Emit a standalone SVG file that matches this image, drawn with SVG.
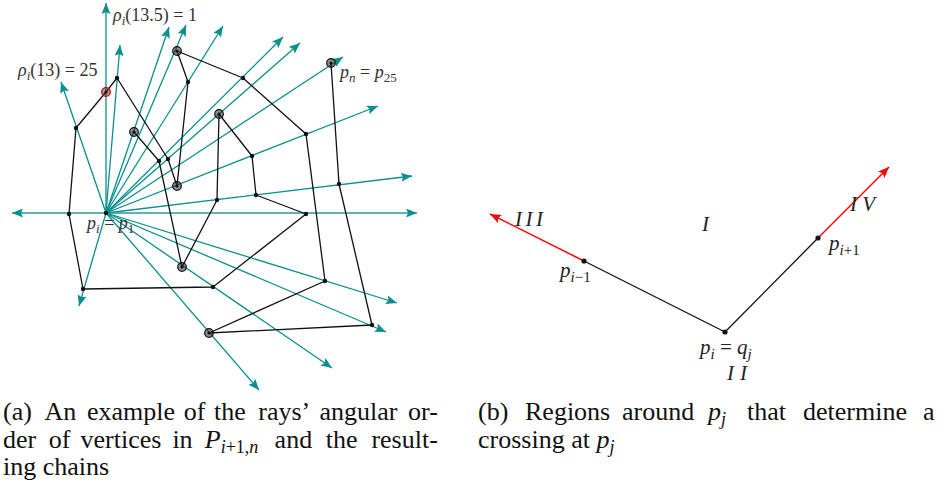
<svg xmlns="http://www.w3.org/2000/svg" width="940" height="486" viewBox="0 0 940 486">
<defs>
<style>
.ray{stroke:#0a8f8f;stroke-width:1.3;fill:none;marker-end:url(#ta)}
.axis{stroke:#5fb3b3;stroke-width:2.2;fill:none;marker-end:url(#ta)}
.edge{stroke:#111;stroke-width:1.3;fill:none;stroke-linejoin:round}
.dot{fill:#111}
.ring{fill:rgba(50,50,50,0.55);stroke:#111;stroke-width:1.2}
.redring{fill:rgba(60,60,60,0.5);stroke:#e00;stroke-width:1.3}
.red{stroke:#f00;stroke-width:1.5;fill:none;marker-end:url(#ra)}
.lbl{font-family:"Liberation Serif",serif;font-size:18px;fill:#333}
.rl{font-family:"Liberation Serif",serif;font-size:21px;fill:#222}
.cap{font-family:"Liberation Serif",serif;font-size:26px;fill:#111}
.it{font-style:italic}
</style>
<marker id="ta" viewBox="0 0 11 9" refX="11" refY="4.5" markerWidth="11" markerHeight="9" orient="auto" markerUnits="userSpaceOnUse"><path d="M0,0 L11,4.5 L0,9 L2,4.5 z" fill="#0a8f8f"/></marker>
<marker id="ra" viewBox="0 0 11 9" refX="11" refY="4.5" markerWidth="11" markerHeight="9" orient="auto" markerUnits="userSpaceOnUse"><path d="M0,0 L11,4.5 L0,9 L2,4.5 z" fill="#f00"/></marker>
</defs>
<rect width="940" height="486" fill="#fff"/>

<g id="connectors">
<g id="rays">
<line class="axis" x1="106" y1="213" x2="12" y2="213"/>
<line class="axis" x1="106" y1="213" x2="417" y2="213"/>
<line class="ray" x1="106" y1="213" x2="79" y2="306"/>
<line class="ray" x1="106" y1="213" x2="259" y2="390"/>
<line class="ray" x1="106" y1="213" x2="332" y2="368"/>
<line class="ray" x1="106" y1="213" x2="386" y2="332"/>
<line class="ray" x1="106" y1="213" x2="397" y2="303"/>
<line class="ray" x1="106" y1="213" x2="412" y2="176"/>
<line class="ray" x1="106" y1="213" x2="378" y2="106"/>
<line class="ray" x1="106" y1="213" x2="343" y2="57"/>
<line class="ray" x1="106" y1="213" x2="300" y2="43"/>
<line class="ray" x1="106" y1="213" x2="283" y2="37"/>
<line class="ray" x1="106" y1="213" x2="223" y2="26"/>
<line class="ray" x1="106" y1="213" x2="186" y2="25"/>
<line class="ray" x1="106" y1="213" x2="169" y2="27"/>
<line class="ray" x1="106" y1="213" x2="120" y2="45"/>
<line class="ray" x1="106" y1="213" x2="106" y2="3"/>
<line class="ray" x1="106" y1="213" x2="61" y2="82"/>
</g>
<polyline id="chain" class="edge" points="134,132 159,161 182,267 217,200 219,114 252,156 256,195 306,214 213,287 83,289 69,214 76,128 106,92 117,78 168,159 177,186 188,82 177,51 243,78 306,134 325,281 209,333 372,325 339,184 331,63"/>
<g id="right-edges">
<line class="red" x1="584" y1="261" x2="490" y2="214"/>
<line class="red" x1="818" y1="238" x2="889" y2="167"/>
<polyline class="edge" points="584,261 725,332 818,238"/>
</g>
</g>

<g id="vertices">
<g id="p1"><circle class="dot" cx="106" cy="213" r="2.2"/></g>
<g id="v-134-132"><circle class="ring" cx="134" cy="132" r="4.3"/><circle class="dot" cx="134" cy="132" r="1.6"/></g>
<g id="v-159-161"><circle class="dot" cx="159" cy="161" r="2.2"/></g>
<g id="v-182-267"><circle class="ring" cx="182" cy="267" r="4.3"/><circle class="dot" cx="182" cy="267" r="1.6"/></g>
<g id="v-217-200"><circle class="dot" cx="217" cy="200" r="2.2"/></g>
<g id="v-219-114"><circle class="ring" cx="219" cy="114" r="4.3"/><circle class="dot" cx="219" cy="114" r="1.6"/></g>
<g id="v-252-156"><circle class="dot" cx="252" cy="156" r="2.2"/></g>
<g id="v-256-195"><circle class="dot" cx="256" cy="195" r="2.2"/></g>
<g id="v-306-214"><circle class="dot" cx="306" cy="214" r="2.2"/></g>
<g id="v-213-287"><circle class="dot" cx="213" cy="287" r="2.2"/></g>
<g id="v-83-289"><circle class="dot" cx="83" cy="289" r="2.2"/></g>
<g id="v-69-214"><circle class="dot" cx="69" cy="214" r="2.2"/></g>
<g id="v-76-128"><circle class="dot" cx="76" cy="128" r="2.2"/></g>
<g id="v-106-92"><circle class="redring" cx="106" cy="92" r="4.3"/><circle class="dot" cx="106" cy="92" r="1.6"/></g>
<g id="v-117-78"><circle class="dot" cx="117" cy="78" r="2.2"/></g>
<g id="v-168-159"><circle class="dot" cx="168" cy="159" r="2.2"/></g>
<g id="v-177-186"><circle class="ring" cx="177" cy="186" r="4.3"/><circle class="dot" cx="177" cy="186" r="1.6"/></g>
<g id="v-188-82"><circle class="dot" cx="188" cy="82" r="2.2"/></g>
<g id="v-177-51"><circle class="ring" cx="177" cy="51" r="4.3"/><circle class="dot" cx="177" cy="51" r="1.6"/></g>
<g id="v-243-78"><circle class="dot" cx="243" cy="78" r="2.2"/></g>
<g id="v-306-134"><circle class="dot" cx="306" cy="134" r="2.2"/></g>
<g id="v-325-281"><circle class="dot" cx="325" cy="281" r="2.2"/></g>
<g id="v-209-333"><circle class="ring" cx="209" cy="333" r="4.3"/><circle class="dot" cx="209" cy="333" r="1.6"/></g>
<g id="v-372-325"><circle class="dot" cx="372" cy="325" r="2.2"/></g>
<g id="v-339-184"><circle class="dot" cx="339" cy="184" r="2.2"/></g>
<g id="p25"><circle class="ring" cx="331" cy="63" r="4.3"/><circle class="dot" cx="331" cy="63" r="1.6"/></g>
<g id="r-pim1"><circle class="dot" cx="584" cy="261" r="2.6"/></g>
<g id="r-pi"><circle class="dot" cx="725" cy="332" r="2.6"/></g>
<g id="r-pip1"><circle class="dot" cx="818" cy="238" r="2.6"/></g>
</g>

<g id="labels-left">
<text class="lbl" x="113" y="21"><tspan class="it">ρ</tspan><tspan class="it" font-size="13" dy="4">i</tspan><tspan dy="-4">(13.5) = 1</tspan></text>
<text class="lbl" x="18" y="76"><tspan class="it">ρ</tspan><tspan class="it" font-size="13" dy="4">i</tspan><tspan dy="-4">(13) = 25</tspan></text>
<text class="lbl" x="340" y="78"><tspan class="it">p</tspan><tspan class="it" font-size="13" dy="4">n</tspan><tspan dy="-4"> = </tspan><tspan class="it">p</tspan><tspan font-size="13" dy="4">25</tspan></text>
<text class="lbl" x="87" y="229"><tspan class="it">p</tspan><tspan class="it" font-size="13" dy="4">i</tspan><tspan dy="-4"> = </tspan><tspan class="it">p</tspan><tspan font-size="13" dy="4">1</tspan></text>
</g>

<g id="labels-right">
<text class="rl it" x="515" y="226" textLength="28" lengthAdjust="spacing">III</text>
<text class="rl it" x="702" y="231">I</text>
<text class="rl it" x="850" y="211" textLength="25" lengthAdjust="spacing">IV</text>
<text class="rl" x="727" y="380"><tspan class="it" textLength="20">II</tspan></text>
<text class="rl" x="560" y="277"><tspan class="it">p</tspan><tspan font-size="15" dy="5"><tspan class="it">i</tspan>−1</tspan></text>
<text class="rl" x="829" y="250"><tspan class="it">p</tspan><tspan font-size="15" dy="5"><tspan class="it">i</tspan>+1</tspan></text>
<text class="rl" x="700" y="354"><tspan class="it">p</tspan><tspan class="it" font-size="15" dy="5">i</tspan><tspan dy="-5"> = </tspan><tspan class="it">q</tspan><tspan class="it" font-size="15" dy="5">j</tspan></text>
</g>

<g id="caption-a">
<text class="cap" y="420"><tspan x="3">(a)</tspan><tspan x="44.6">An</tspan><tspan x="86.9">example</tspan><tspan x="183.8">of</tspan><tspan x="214">the</tspan><tspan x="258.3">rays’</tspan><tspan x="319.4">angular</tspan><tspan x="408">or-</tspan></text>
<text class="cap" y="447.5"><tspan x="3">der</tspan><tspan x="48.8">of</tspan><tspan x="80.5">vertices</tspan><tspan x="172.4">in</tspan><tspan x="204.8" class="it">P</tspan><tspan font-size="18" dy="5"><tspan class="it">i</tspan>+1,<tspan class="it">n</tspan></tspan><tspan x="274.6" dy="-5">and</tspan><tspan x="325.7">the</tspan><tspan x="371.4">result-</tspan></text>
<text class="cap" x="3" y="475">ing chains</text>
</g>

<g id="caption-b">
<text class="cap" y="420"><tspan x="478">(b)</tspan><tspan x="525">Regions</tspan><tspan x="622">around</tspan><tspan x="708" class="it">p</tspan><tspan class="it" font-size="18" dy="5">j</tspan><tspan x="747" dy="-5">that</tspan><tspan x="803">determine</tspan><tspan x="923">a</tspan></text>
<text class="cap" x="478" y="447.5">crossing at <tspan class="it">p</tspan><tspan class="it" font-size="18" dy="5">j</tspan></text>
</g>
</svg>
